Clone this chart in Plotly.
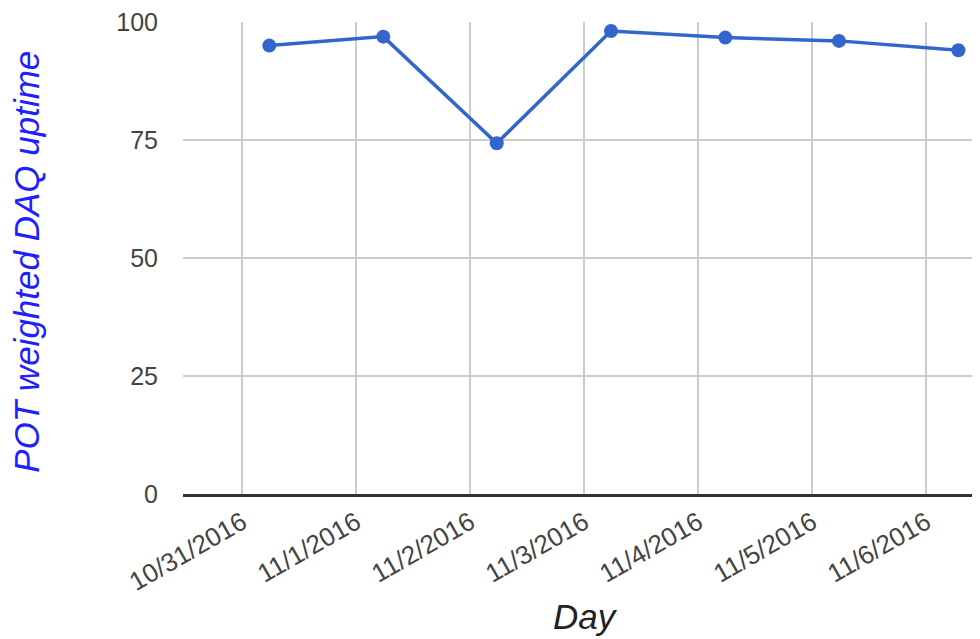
import plotly.graph_objects as go

days = ["2016-10-31 05:41", "2016-11-01 05:41", "2016-11-02 05:34", "2016-11-03 05:37",
        "2016-11-04 05:41", "2016-11-05 05:37", "2016-11-06 06:45"]
uptime = [95.0, 96.9, 74.3, 98.1, 96.7, 96.0, 94.0]
y_ticks = [0, 25, 50, 75, 100]
x_title = "Day"
y_title = "POT weighted DAQ uptime"

FONT = "Liberation Sans, Arial, sans-serif"

fig = go.Figure(go.Scatter(
    x=days, y=uptime, mode="lines+markers",
    line=dict(color="#3366cc", width=3.5),
    marker=dict(color="#3366cc", size=14),
    showlegend=False,
))

fig.update_layout(
    width=972, height=631,
    margin=dict(l=175, r=0, t=12, b=145),
    paper_bgcolor="white", plot_bgcolor="white",
    font=dict(family=FONT, size=25, color="#444444"),
    xaxis=dict(
        type="date",
        range=["2016-10-30 11:31", "2016-11-06 11:18"],
        dtick=86400000, tick0="2016-10-31",
        tickformat="%-m/%-d/%Y", tickangle=-30,
        showgrid=True, gridcolor="#cccccc", gridwidth=2,
        showline=True, linecolor="#333333", linewidth=3,
        zeroline=False, ticks="", ticklabelstandoff=0,
        ticklabeloverflow="allow",
        tickfont=dict(family=FONT, size=26, color="#444444"),
    ),
    yaxis=dict(
        range=[0, 100], tickvals=y_ticks,
        showgrid=True, gridcolor="#cccccc", gridwidth=2,
        zeroline=False, showline=False, ticks="", ticklabelstandoff=24,
        ticklabeloverflow="allow",
        tickfont=dict(family=FONT, size=25, color="#444444"),
    ),
    annotations=[
        dict(text=y_title, xref="paper", yref="paper", x=-0.1957, y=0.492,
             xanchor="center", yanchor="middle", textangle=-90, showarrow=False,
             font=dict(family=FONT, size=35, color="#2020ff", style="italic")),
        dict(text=x_title, xref="paper", yref="paper", x=0.5056, y=-0.2595,
             xanchor="center", yanchor="middle", showarrow=False,
             font=dict(family=FONT, size=35, color="#222222", style="italic")),
    ],
)

fig.write_html("out.html")
